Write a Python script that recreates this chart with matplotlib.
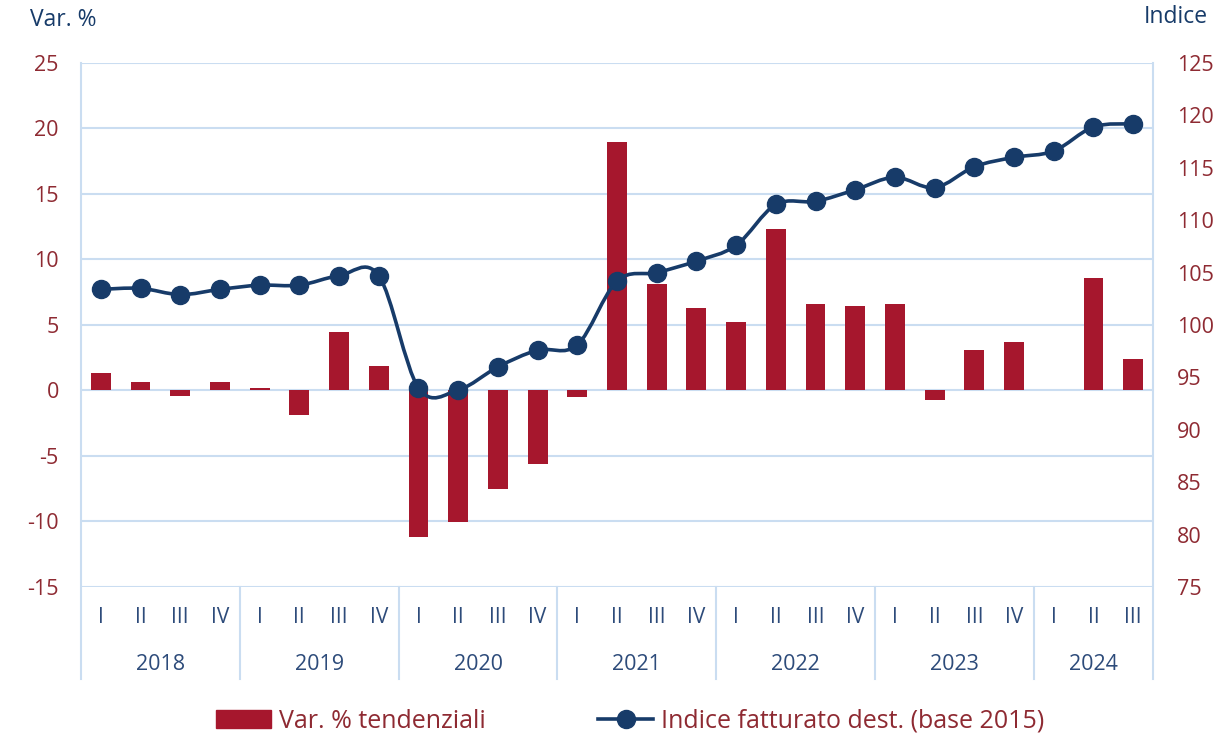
import numpy as np
import matplotlib.pyplot as plt
from matplotlib.path import Path
from matplotlib.patches import PathPatch, Patch
from matplotlib.lines import Line2D
import matplotlib.transforms as mtransforms

years = ['2018', '2019', '2020', '2021', '2022', '2023', '2024']
quarters = ['I', 'II', 'III', 'IV'] * 6 + ['I', 'II', 'III']

var_pct = [1.3, 0.65, -0.45, 0.65,
           0.2, -1.85, 4.45, 1.85,
           -11.2, -10.05, -7.5, -5.6,
           -0.5, 18.95, 8.1, 6.3,
           5.2, 12.3, 6.6, 6.45,
           6.6, -0.7, 3.1, 3.7,
           0.0, 8.6, 2.4]

indice = [103.4, 103.5, 102.9, 103.4,
          103.8, 103.8, 104.7, 104.7,
          94.0, 93.8, 96.0, 97.6,
          98.1, 104.2, 105.0, 106.1,
          107.6, 111.5, 111.8, 112.9,
          114.1, 113.1, 115.1, 116.0,
          116.6, 118.9, 119.2]

RED = '#A6172D'
NAVY = '#173B69'
TXT_RED = '#8E2A32'
TXT_NAVY = '#2D4B7A'
GRID = '#CADDF1'

plt.rcParams['font.family'] = ['Open Sans', 'DejaVu Sans']
plt.rcParams['axes.unicode_minus'] = False

fig = plt.figure(figsize=(12.19, 7.36), dpi=100)
ax = fig.add_axes([81 / 1219, 1 - 587 / 736, (1153 - 81) / 1219, 524 / 736])
ax2 = ax.twinx()

n = len(var_pct)
x = np.arange(n)

ax.bar(x, var_pct, width=0.5, color=RED, zorder=2)
ax.set_xlim(-0.5, n - 0.5)
ax.set_ylim(-15, 25)
ax.set_yticks(range(-15, 26, 5))
ax.grid(axis='y', color=GRID, lw=1.5, zorder=0)
ax.set_axisbelow(True)
ax.set_xticks([])

# smoothed line (bezier through the points, like Excel)
pts = np.column_stack([x, indice]).astype(float)
verts = [tuple(pts[0])]
codes = [Path.MOVETO]
for i in range(n - 1):
    p0 = pts[i - 1] if i > 0 else pts[i]
    p1 = pts[i]
    p2 = pts[i + 1]
    p3 = pts[i + 2] if i + 2 < n else pts[i + 1]
    c1 = p1 + (p2 - p0) / 6
    c2 = p2 - (p3 - p1) / 6
    verts += [tuple(c1), tuple(c2), tuple(p2)]
    codes += [Path.CURVE4] * 3
ax2.add_patch(PathPatch(Path(verts, codes), fill=False, ec=NAVY, lw=2.6, zorder=3))
ax2.plot(x, indice, 'o', color=NAVY, ms=13, zorder=4)
ax2.set_ylim(75, 125)
ax2.set_yticks(range(75, 126, 5))

for a in (ax, ax2):
    for s in a.spines.values():
        s.set_visible(False)
    a.tick_params(axis='y', length=0, labelsize=15.5, labelcolor=TXT_RED)
ax.tick_params(axis='y', pad=16)
ax2.tick_params(axis='y', pad=17)

# two-level category axis
trans = mtransforms.blended_transform_factory(ax.transData, ax.transAxes)
for i, q in enumerate(quarters):
    ax.text(i, -0.058, q, transform=trans, ha='center', va='center',
            fontsize=15, color=TXT_NAVY)
for k, yr in enumerate(years):
    start = 4 * k
    end = min(4 * k + 3, n - 1)
    ax.text((start + end) / 2, -0.147, yr, transform=trans, ha='center',
            va='center', fontsize=15.5, color=TXT_NAVY)
for b in [-0.5, 3.5, 7.5, 11.5, 15.5, 19.5, 23.5, n - 0.5]:
    top = 1.0 if b in (-0.5, n - 0.5) else 0.0
    ax.plot([b, b], [-0.175, top], transform=trans, color=GRID, lw=1.5,
            clip_on=False, zorder=1)

fig.text(30 / 1219, 1 - 20 / 736, 'Var. %', fontsize=16.5, color=NAVY,
         ha='left', va='center')
fig.text(1208 / 1219, 1 - 17 / 736, 'Indice', fontsize=16.5, color=NAVY,
         ha='right', va='center')

handles = [Patch(color=RED),
           Line2D([], [], color=NAVY, lw=2.6, marker='o', ms=13)]
leg = fig.legend(handles, ['Var. % tendenziali', 'Indice fatturato dest. (base 2015)'],
                 loc='center', bbox_to_anchor=(0.517, 1 - 721 / 736), ncol=2,
                 frameon=False, fontsize=18, handlelength=2.2, columnspacing=4.5,
                 handletextpad=0.3)
for t in leg.get_texts():
    t.set_color(TXT_RED)

fig.savefig('out.png', dpi=100)
